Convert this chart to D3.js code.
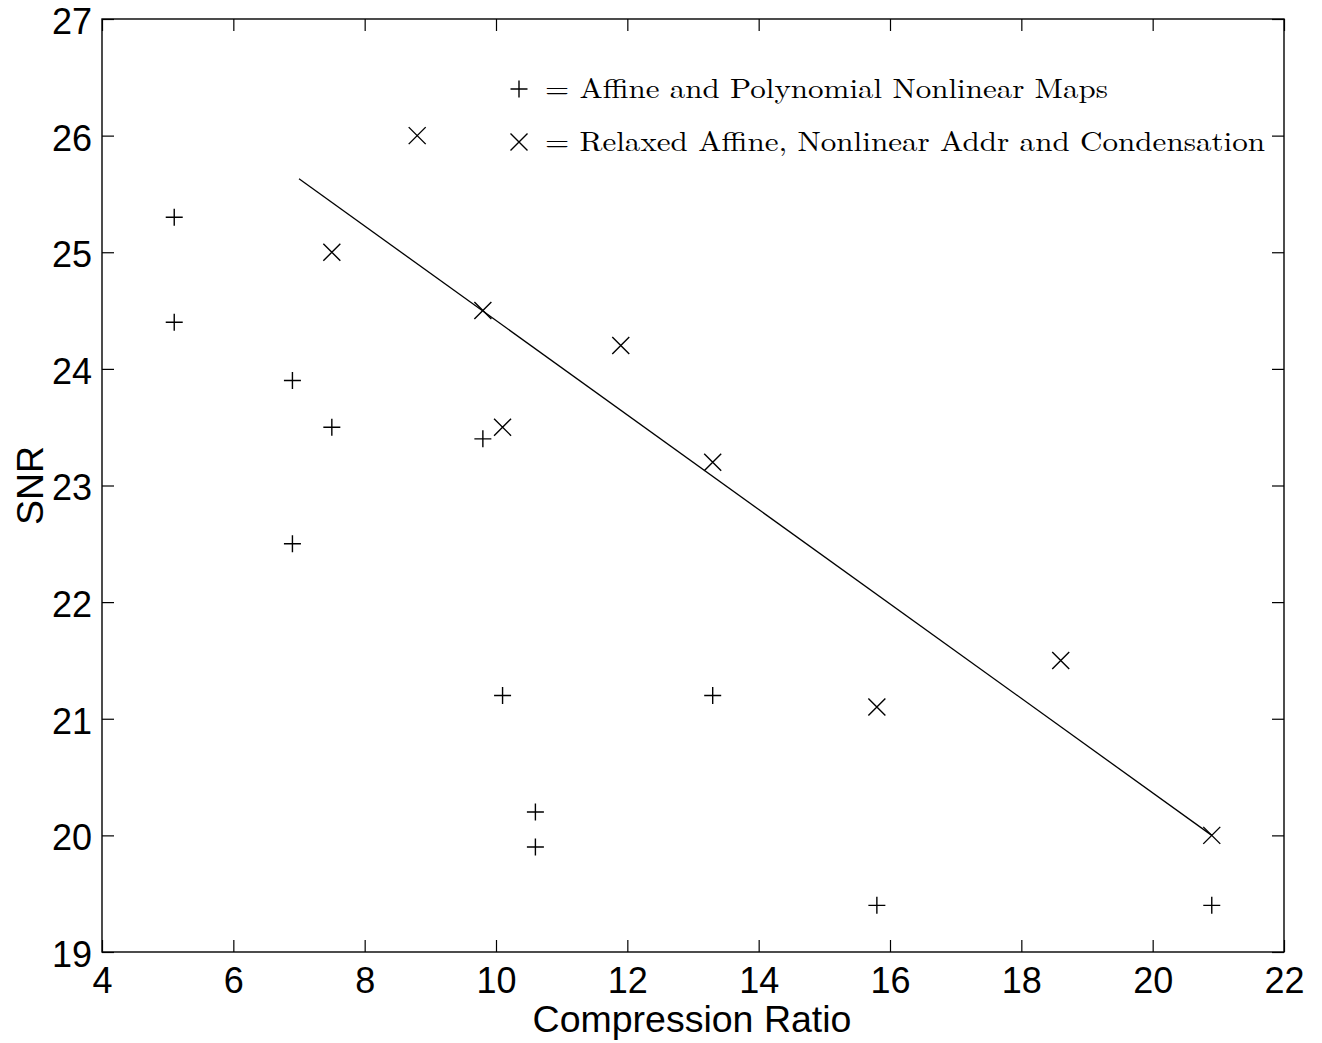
<!DOCTYPE html>
<html><head><meta charset="utf-8">
<script src="https://cdn.jsdelivr.net/npm/d3@7"></script>
<style>body{margin:0;background:#fff}</style>
</head><body>
<svg id="c" width="1322" height="1043"></svg>
<script>
const xTicks = [4,6,8,10,12,14,16,18,20,22];
const yTicks = [19,20,21,22,23,24,25,26,27];
const plusX = [5.1,5.1,6.9,7.5,6.9,9.8,10.1,10.6,10.6,13.3,15.8,20.9];
const plusY = [25.3,24.4,23.9,23.5,22.5,23.4,21.2,20.2,19.9,21.2,19.4,19.4];
const crossX = [8.8,7.5,9.8,11.9,10.1,13.3,18.6,15.8,20.9];
const crossY = [26.0,25.0,24.5,24.2,23.5,23.2,21.5,21.1,20.0];
const fitX = [7.0,20.9];
const fitY = [25.63,20.0];
const legendLabels = ["= Affine and Polynomial Nonlinear Maps","= Relaxed Affine, Nonlinear Addr and Condensation"];

const L=102,R=1284,T=19,B=952;
const svg=d3.select("#c");
const x=d3.scaleLinear().domain([4,22]).range([L,R]);
const y=d3.scaleLinear().domain([19,27]).range([B,T]);
const sans="'Liberation Sans', Arial, sans-serif";

// frame
svg.append("rect").attr("x",L).attr("y",T).attr("width",R-L).attr("height",B-T)
  .attr("fill","none").attr("stroke","#000").attr("stroke-width",1.4);

const tl=12;
const gb=svg.append("g").attr("transform",`translate(0,${B})`)
  .call(d3.axisBottom(x).tickValues(xTicks).tickSize(-tl).tickPadding(15).tickFormat(d3.format("d")));
const gt=svg.append("g").attr("transform",`translate(0,${T})`)
  .call(d3.axisTop(x).tickValues(xTicks).tickSize(-tl).tickFormat(""));
const gl=svg.append("g").attr("transform",`translate(${L},0)`)
  .call(d3.axisLeft(y).tickValues(yTicks).tickSize(-tl).tickPadding(10).tickFormat(d3.format("d")));
const gr=svg.append("g").attr("transform",`translate(${R},0)`)
  .call(d3.axisRight(y).tickValues(yTicks).tickSize(-tl).tickFormat(""));
[gb,gt,gl,gr].forEach(g=>{
  g.select(".domain").remove();
  g.selectAll("line").attr("stroke","#000").attr("stroke-width",1.2);
  g.selectAll("text").attr("font-family",sans).attr("font-size",36).attr("fill","#000");
});
gb.selectAll("text").attr("dy","0.71em");
gl.selectAll("text").attr("dy","0.4em");

svg.append("text").attr("x",692).attr("y",1032).attr("text-anchor","middle")
  .attr("font-family",sans).attr("font-size",37.5).text("Compression Ratio");
svg.append("text").attr("transform",`translate(43,${(T+B)/2}) rotate(-90)`).attr("text-anchor","middle")
  .attr("font-family",sans).attr("font-size",37.5).text("SNR");

// fit line
svg.append("line").attr("x1",x(fitX[0])).attr("y1",y(fitY[0])).attr("x2",x(fitX[1])).attr("y2",y(fitY[1]))
  .attr("stroke","#000").attr("stroke-width",1.3);

const s=8.5;
function plus(g,cx,cy){g.append("path").attr("d",`M${cx-s},${cy}H${cx+s}M${cx},${cy-s}V${cy+s}`).attr("stroke","#000").attr("stroke-width",1.4).attr("fill","none");}
function cross(g,cx,cy){g.append("path").attr("d",`M${cx-s},${cy-s}L${cx+s},${cy+s}M${cx-s},${cy+s}L${cx+s},${cy-s}`).attr("stroke","#000").attr("stroke-width",1.4).attr("fill","none");}
const gp=svg.append("g");
plusX.forEach((v,i)=>plus(gp,x(v),y(plusY[i])));
crossX.forEach((v,i)=>cross(gp,x(v),y(crossY[i])));

// legend
const serif="'Latin Modern Roman','CMU Serif','Liberation Serif','DejaVu Serif',serif";
plus(svg,519,89);
cross(svg,519,142);
svg.append("text").attr("x",545).attr("y",98).attr("font-family",serif).attr("font-size",28)
  .attr("textLength",563).attr("lengthAdjust","spacingAndGlyphs").text(legendLabels[0]);
svg.append("text").attr("x",545).attr("y",151).attr("font-family",serif).attr("font-size",28)
  .attr("textLength",720).attr("lengthAdjust","spacingAndGlyphs").text(legendLabels[1]);
</script>
</body></html>
